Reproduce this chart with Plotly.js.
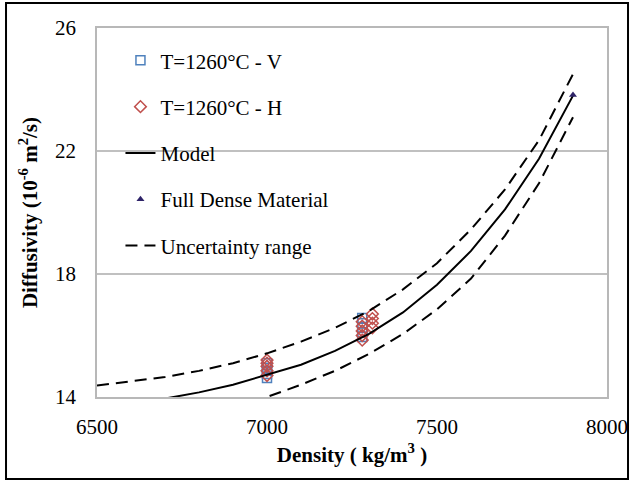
<!DOCTYPE html>
<html>
<head>
<meta charset="utf-8">
<script src="https://cdn.plot.ly/plotly-3.0.1.min.js"></script>
<style>html,body{margin:0;padding:0;background:#fff;}#chart{width:630px;height:481px;}</style>
</head>
<body>
<div id="chart"></div>
<script>
// Data
const vDensity = [7000, 7000, 7000, 7000, 7000, 7280, 7280, 7280, 7280, 7280];
const vDiffusivity = [14.62, 14.75, 14.85, 14.95, 15.1, 15.95, 16.1, 16.25, 16.4, 16.57];

const hDensity = [7000, 7000, 7000, 7000, 7000, 7280, 7280, 7280, 7280, 7280, 7310, 7310, 7310, 7310];
const hDiffusivity = [14.7, 14.85, 15.0, 15.1, 15.2, 15.85, 16.0, 16.15, 16.3, 16.45, 16.25, 16.4, 16.55, 16.7];

const modelDensity = [6500, 6600, 6700, 6800, 6900, 7000, 7100, 7200, 7300, 7400, 7500, 7600, 7700, 7800, 7900];
const modelDiffusivity = [13.6, 13.75, 13.95, 14.15, 14.4, 14.72, 15.05, 15.5, 16.05, 16.75, 17.65, 18.75, 20.1, 21.75, 23.8];

const fullDensity = [7900];
const fullDiffusivity = [23.82];

const upperDensity = [6500, 6600, 6700, 6800, 6900, 7000, 7100, 7200, 7300, 7400, 7500, 7600, 7700, 7800, 7900];
const upperDiffusivity = [14.37, 14.5, 14.65, 14.85, 15.1, 15.42, 15.8, 16.25, 16.8, 17.5, 18.35, 19.45, 20.75, 22.35, 24.5];

const lowerDensity = [6900, 7000, 7100, 7200, 7300, 7400, 7500, 7600, 7700, 7800, 7900];
const lowerDiffusivity = [13.7, 14.0, 14.4, 14.85, 15.4, 16.05, 16.85, 17.85, 19.25, 20.95, 23.1];

const xTicks = [6500, 7000, 7500, 8000];
const yTicks = [14, 18, 22, 26];

const FONT = "'Liberation Serif', 'Times New Roman', serif";
const dashStyle = '12px,7px';

const traces = [
  {x: vDensity, y: vDiffusivity, type: 'scatter', mode: 'markers', name: 'T=1260°C - V', legendgroup: 'a',
   marker: {symbol: 'square-open', size: 9, color: '#4F81BD', line: {width: 1.5}}},
  {x: hDensity, y: hDiffusivity, type: 'scatter', mode: 'markers', name: 'T=1260°C - H', legendgroup: 'b',
   marker: {symbol: 'diamond-open', size: 9, color: '#C0504D', line: {width: 1.5}}},
  {x: modelDensity, y: modelDiffusivity, type: 'scatter', mode: 'lines', name: 'Model', legendgroup: 'c',
   line: {color: '#000000', width: 2}},
  {x: fullDensity, y: fullDiffusivity, type: 'scatter', mode: 'markers', name: 'Full Dense Material', legendgroup: 'd',
   marker: {symbol: 'triangle-up', size: 7, color: '#2E2368'}},
  {x: upperDensity, y: upperDiffusivity, type: 'scatter', mode: 'lines', name: 'Uncertainty range', legendgroup: 'e',
   line: {color: '#000000', width: 2, dash: dashStyle}},
  {x: lowerDensity, y: lowerDiffusivity, type: 'scatter', mode: 'lines', name: 'Uncertainty range', legendgroup: 'e',
   showlegend: false, line: {color: '#000000', width: 2, dash: dashStyle}}
];

const layout = {
  width: 630, height: 481,
  margin: {l: 97, r: 23, t: 28, b: 84, pad: 0},
  paper_bgcolor: '#ffffff', plot_bgcolor: '#ffffff',
  font: {family: FONT, size: 21, color: '#000000'},
  showlegend: true,
  legend: {x: 0.046, y: 0.967, xanchor: 'left', yanchor: 'top', bgcolor: 'rgba(0,0,0,0)',
           font: {family: FONT, size: 21, color: '#000000'}, tracegroupgap: 16, itemwidth: 30},
  xaxis: {range: [6500, 8000], tickvals: xTicks, ticks: 'outside', ticklen: 10, tickcolor: 'rgba(0,0,0,0)',
          showgrid: false, zeroline: false, showline: true, mirror: true, linecolor: '#b8b8b8', linewidth: 1.5,
          tickfont: {family: FONT, size: 21},
          title: {text: '<b>Density ( kg/m<sup>3</sup> )</b>', font: {family: FONT, size: 21}, standoff: 9}},
  yaxis: {range: [14, 26], tickvals: yTicks, ticks: 'outside', ticklen: 15, tickcolor: 'rgba(0,0,0,0)',
          showgrid: true, gridcolor: '#c0c0c0', gridwidth: 1.5, zeroline: false, showline: true, mirror: true,
          linecolor: '#b8b8b8', linewidth: 1.5,
          tickfont: {family: FONT, size: 21},
          title: {text: '<b>Diffusivity (10<sup>-6</sup> m<sup>2</sup>/s)</b>', font: {family: FONT, size: 21}, standoff: 12}},
  shapes: [
    {type: 'rect', xref: 'paper', yref: 'paper', x0: -0.1784, x1: 1.0412, y0: -0.2222, y1: 1.0678,
     line: {color: '#000000', width: 2}, fillcolor: 'rgba(0,0,0,0)', layer: 'above'}
  ]
};

Plotly.newPlot('chart', traces, layout, {displayModeBar: false});
</script>
</body>
</html>
